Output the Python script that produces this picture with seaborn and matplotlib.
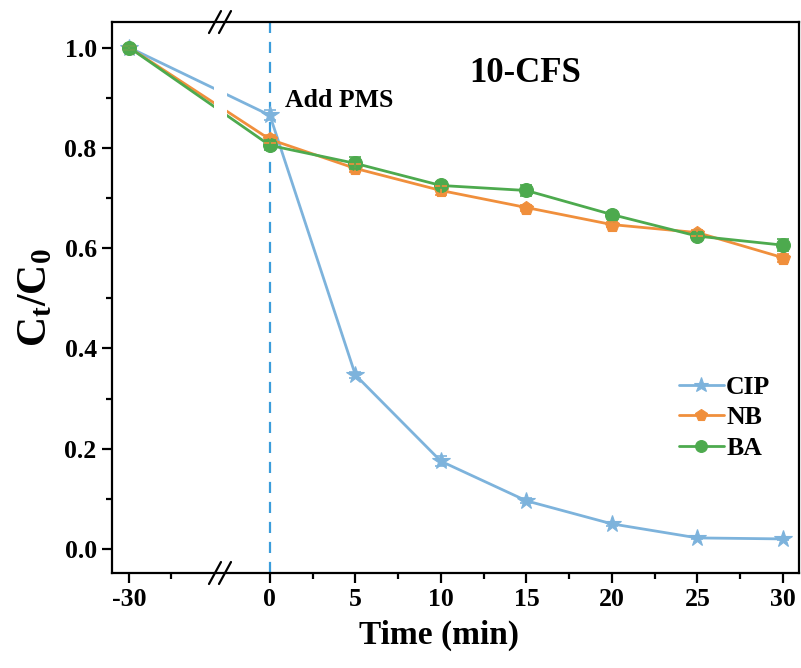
import numpy as np
import pandas as pd
import matplotlib
matplotlib.use("Agg")
import matplotlib.pyplot as plt
import seaborn as sns

# ---- data ----
time = [-30, 0, 5, 10, 15, 20, 25, 30]
cip = [1.000, 0.865, 0.347, 0.175, 0.096, 0.050, 0.022, 0.020]
nb = [1.000, 0.817, 0.759, 0.715, 0.681, 0.647, 0.631, 0.581]
ba = [1.000, 0.805, 0.769, 0.725, 0.715, 0.667, 0.624, 0.606]
cip_err = [0.004, 0.010, 0.006, 0.010, 0.005, 0.004, 0.003, 0.003]
nb_err = [0.004, 0.008, 0.008, 0.008, 0.006, 0.005, 0.006, 0.008]
ba_err = [0.004, 0.010, 0.012, 0.006, 0.010, 0.006, 0.006, 0.012]
series_names = ["CIP", "NB", "BA"]
colors = {"CIP": "#7DB3DC", "NB": "#F08F3C", "BA": "#4DAA4E"}
markers = {"CIP": "*", "NB": "p", "BA": "o"}
msizes = {"CIP": 13, "NB": 10, "BA": 10}
xticks = [-30, 0, 5, 10, 15, 20, 25, 30]
yticks = [0.0, 0.2, 0.4, 0.6, 0.8, 1.0]

sns.set_theme(style="ticks")
plt.rcParams["font.family"] = ["Liberation Serif", "DejaVu Serif"]
plt.rcParams["font.weight"] = "bold"
plt.rcParams["text.color"] = "black"
plt.rcParams["axes.labelcolor"] = "black"
plt.rcParams["xtick.color"] = "black"
plt.rcParams["ytick.color"] = "black"
plt.rcParams["mathtext.fontset"] = "custom"
plt.rcParams["mathtext.rm"] = "Liberation Serif:bold"
plt.rcParams["mathtext.bf"] = "Liberation Serif:bold"
plt.rcParams["mathtext.it"] = "Liberation Serif:bold"

df = pd.concat([
    pd.DataFrame({"Time": time, "C": vals, "err": errs, "Series": name})
    for name, vals, errs in zip(series_names, [cip, nb, ba], [cip_err, nb_err, ba_err])
], ignore_index=True)

fig = plt.figure(figsize=(8.01, 6.68), dpi=100)
ax = fig.add_axes([0.1398, 0.1422, 0.9975 - 0.1398, 0.967 - 0.1422])

# broken-axis style scale: compress the negative side
k = 8.22 / 30.0
def fwd(t):
    t = np.asarray(t, dtype=float)
    return np.where(t >= 0, t, t * k)
def inv(p):
    p = np.asarray(p, dtype=float)
    return np.where(p >= 0, p, p / k)
ax.set_xscale("function", functions=(fwd, inv))

sns.lineplot(data=df, x="Time", y="C", hue="Series", style="Series",
             palette=colors, markers=markers, dashes=False, ax=ax,
             linewidth=2, markersize=10, errorbar=None, zorder=4)
for line in ax.get_lines():
    c = line.get_color()
    line.set_markeredgecolor(c)
    line.set_markeredgewidth(0.8)
for name in series_names:
    for line in ax.get_lines():
        if line.get_marker() == markers[name]:
            line.set_markersize(msizes[name])
    sub = df[df.Series == name]
    ax.errorbar(sub.Time, sub.C, yerr=sub.err, fmt="none", ecolor=colors[name],
                elinewidth=1.2, capsize=4, capthick=1.2, zorder=4)

ax.set_xlim(-33.7, 30.94)
ax.set_ylim(-0.048, 1.051)

# gap of the axis break
ax.axvspan(-12.0, -9.2, color="white", zorder=6, lw=0)
ax.axvline(0, color="#3C9DDB", linestyle=(0, (5, 4)), lw=1.6, zorder=3)

for sp in ax.spines.values():
    sp.set_zorder(7)
    sp.set_linewidth(1.6)
    sp.set_color("black")

# break marks
W, H = 687.0, 551.0
cx = (220 - 112) / W
for yb in (0.0, 1.0):
    for off in (-5, 5):
        x0 = cx + (off - 6) / W
        x1 = cx + (off + 6) / W
        ax.plot([x0, x1], [yb - 11 / H, yb + 11 / H], transform=ax.transAxes,
                color="black", lw=1.6, clip_on=False, zorder=8)

ax.set_xticks(xticks)
ax.set_xticklabels([str(t) for t in xticks])
ax.set_xticks([-21, 2.5, 7.5, 12.5, 17.5, 22.5, 27.5], minor=True)
ax.set_yticks(yticks)
ax.set_yticklabels([f"{v:.1f}" for v in yticks])
ax.set_yticks([0.1, 0.3, 0.5, 0.7, 0.9], minor=True)
ax.tick_params(axis="both", which="major", direction="out", length=7, width=1.6,
               labelsize=18.5, pad=4, colors="black")
ax.tick_params(axis="both", which="minor", direction="out", length=4, width=1.6,
               colors="black")
for lab in ax.get_xticklabels() + ax.get_yticklabels():
    lab.set_fontweight("bold")

ax.set_xlabel("Time (min)", fontsize=24, fontweight="bold")
ax.xaxis.set_label_coords(0.476, -0.085)
ax.set_ylabel(r"$\mathbf{C_t/C_0}$", fontsize=30)
ax.yaxis.set_label_coords(-0.083, 0.5)

ax.text(14.9, 0.948, "10-CFS", fontsize=25, fontweight="bold", ha="center", va="center")
ax.text(0.9, 0.894, "Add PMS", fontsize=18.5, fontweight="bold", ha="left", va="center")

leg = ax.legend(loc="lower right", bbox_to_anchor=(0.992, 0.163), frameon=False,
                fontsize=18.5, handlelength=1.75, handletextpad=0.1, labelspacing=0.3,
                markerscale=0.85)
for t in leg.get_texts():
    t.set_fontweight("bold")

fig.savefig("out.png", dpi=100)
